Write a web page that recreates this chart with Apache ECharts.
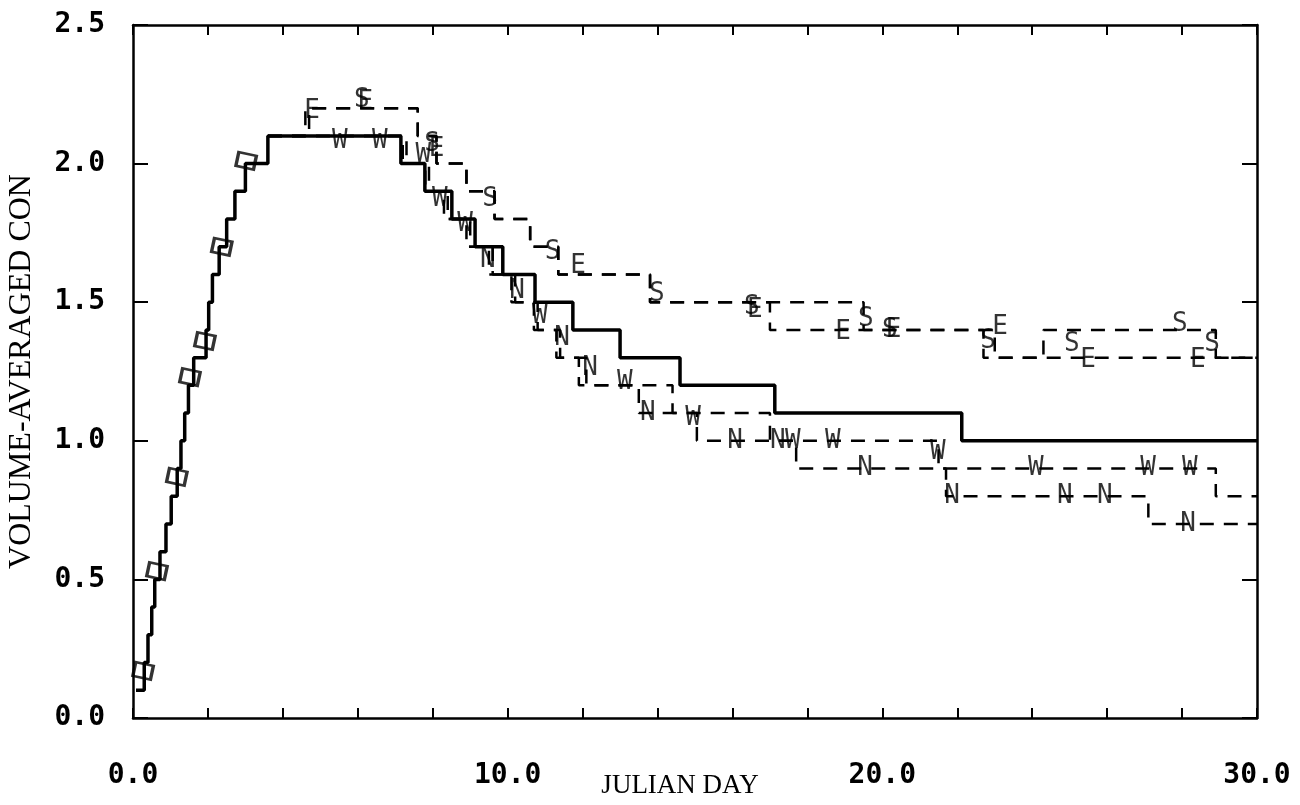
<!DOCTYPE html>
<html>
<head>
<meta charset="utf-8">
<script src="https://cdn.jsdelivr.net/npm/echarts@6/dist/echarts.min.js"></script>
<style>
  html, body { margin: 0; padding: 0; background: #fff; }
  #chart { width: 1300px; height: 805px; }
</style>
</head>
<body>
<div id="chart"></div>
<script>
// solid step line (volume average)
const solidDays = [0.08, 0.3, 0.4, 0.5, 0.58, 0.72, 0.88, 1.02, 1.18, 1.28, 1.38, 1.48, 1.62, 1.95, 2.02, 2.12, 2.3, 2.5, 2.72, 3.0, 3.6,
  7.15, 7.79, 8.51, 9.13, 9.87, 10.73, 11.74, 13.0, 14.6, 17.13, 22.12, 30];
const solidVals = [0.1, 0.2, 0.3, 0.4, 0.5, 0.6, 0.7, 0.8, 0.9, 1.0, 1.1, 1.2, 1.3, 1.4, 1.5, 1.6, 1.7, 1.8, 1.9, 2.0, 2.1,
  2.0, 1.9, 1.8, 1.7, 1.6, 1.5, 1.4, 1.3, 1.2, 1.1, 1.0, 1.0];

// dashed step lines
const sDays = [3.6, 4.7, 7.6, 8.1, 8.9, 9.65, 10.6, 11.35, 13.8, 19.5, 22.7, 24.3, 28.9, 30];
const sVals = [2.1, 2.2, 2.1, 2.0, 1.9, 1.8, 1.7, 1.6, 1.5, 1.4, 1.3, 1.4, 1.3, 1.3];
const eDays = [3.6, 4.6, 7.6, 8.1, 8.9, 9.65, 10.6, 11.35, 13.8, 17.0, 23.0, 30];
const eVals = [2.1, 2.2, 2.1, 2.0, 1.9, 1.8, 1.7, 1.6, 1.5, 1.4, 1.3, 1.3];
const wDays = [3.6, 7.3, 7.9, 8.4, 9.0, 9.6, 10.2, 10.8, 11.4, 12.1, 14.4, 17.0, 21.5, 28.9, 30];
const wVals = [2.1, 2.0, 1.9, 1.8, 1.7, 1.6, 1.5, 1.4, 1.3, 1.2, 1.1, 1.0, 0.9, 0.8, 0.8];
const nDays = [3.6, 7.2, 7.8, 8.3, 8.9, 9.5, 10.1, 10.7, 11.3, 11.9, 13.5, 15.05, 17.7, 21.7, 27.1, 30];
const nVals = [2.1, 2.0, 1.9, 1.8, 1.7, 1.6, 1.5, 1.4, 1.3, 1.2, 1.1, 1.0, 0.9, 0.8, 0.7, 0.7];

// plotted symbols
const boxDays = [0.27, 0.64, 1.17, 1.52, 1.92, 2.37, 3.02];
const boxVals = [0.17, 0.53, 0.87, 1.23, 1.36, 1.70, 2.01];
const sMarkDays = [6.11, 7.98, 9.53, 11.2, 13.98, 16.52, 19.56, 20.2, 22.82, 25.06, 27.94, 28.8];
const sMarkVals = [2.23, 2.07, 1.87, 1.68, 1.53, 1.48, 1.44, 1.40, 1.36, 1.35, 1.42, 1.35];
const eMarkDays = [4.78, 6.2, 8.1, 11.88, 16.6, 18.95, 20.3, 23.14, 25.49, 28.42];
const eMarkVals = [2.19, 2.22, 2.05, 1.63, 1.47, 1.39, 1.40, 1.41, 1.29, 1.29];
const wMarkDays = [5.52, 6.59, 7.75, 8.19, 8.86, 10.86, 13.13, 14.95, 17.61, 18.68, 21.48, 24.1, 27.09, 28.21];
const wMarkVals = [2.08, 2.08, 2.03, 1.87, 1.78, 1.45, 1.21, 1.08, 1.0, 1.0, 0.96, 0.9, 0.9, 0.9];
const nMarkDays = [9.47, 10.25, 11.45, 12.2, 13.74, 16.07, 17.21, 19.54, 21.86, 24.87, 25.94, 28.16];
const nMarkVals = [1.65, 1.54, 1.37, 1.26, 1.1, 1.0, 1.0, 0.9, 0.8, 0.8, 0.8, 0.7];

function zip (xs, ys) {
  return xs.map((x, i) => [x, ys[i]]);
}

const monoFont = 'DejaVu Sans Mono';
const serifFont = 'Liberation Serif';

function stepLine (name, xs, ys, width, dashed) {
  return {
    name: name,
    type: 'line',
    step: 'end',
    symbol: 'none',
    data: zip(xs, ys),
    lineStyle: { color: '#000', width: width, type: dashed ? [14, 10] : 'solid' },
    z: dashed ? 2 : 3
  };
}

function letters (letter, xs, ys) {
  return {
    name: letter,
    type: 'scatter',
    symbol: 'circle',
    symbolSize: 1,
    itemStyle: { color: 'rgba(0,0,0,0)' },
    data: zip(xs, ys),
    label: {
      show: true,
      position: 'inside',
      formatter: letter,
      fontFamily: monoFont,
      fontSize: 26,
      color: '#000'
    },
    z: 4
  };
}

// frame axes: no labels, ticks pointing into the plot
function frameAxis (extra) {
  return Object.assign({
    type: 'value',
    axisLine: { show: true, onZero: false, lineStyle: { color: '#000', width: 2.5 } },
    axisTick: { show: true, inside: true, lineStyle: { color: '#000', width: 2 } },
    axisLabel: { show: false },
    splitLine: { show: false }
  }, extra);
}

const chart = echarts.init(document.getElementById('chart'));

const option = {
  backgroundColor: '#fff',
  animation: false,
  grid: { left: 133, right: 43, top: 25, bottom: 87, containLabel: false, outerBoundsMode: 'none' },
  xAxis: [
    {
      type: 'value',
      min: 0,
      max: 30,
      interval: 2,
      name: 'JULIAN DAY',
      nameLocation: 'middle',
      nameGap: 54,
      nameMoveOverlap: false,
      nameTextStyle: { fontFamily: serifFont, fontSize: 27, color: '#000', padding: [0, 30, 0, 0] },
      axisLine: { onZero: false, lineStyle: { color: '#000', width: 2.5 } },
      axisTick: { inside: true, length: 10, lineStyle: { color: '#000', width: 2 } },
      axisLabel: {
        margin: 44,
        fontFamily: monoFont,
        fontSize: 28,
        fontWeight: 'bold',
        color: '#000',
        formatter: v => (v % 10 === 0 ? v.toFixed(1) : '')
      },
      splitLine: { show: false }
    },
    frameAxis({ position: 'top', min: 0, max: 30, interval: 2, axisTick: { show: true, inside: true, length: 10, lineStyle: { color: '#000', width: 2 } } })
  ],
  yAxis: [
    {
      type: 'value',
      min: 0,
      max: 2.5,
      interval: 0.5,
      name: 'VOLUME-AVERAGED CON',
      nameLocation: 'middle',
      nameGap: 95,
      nameMoveOverlap: false,
      nameTextStyle: { fontFamily: serifFont, fontSize: 32, color: '#000' },
      axisLine: { show: true, onZero: false, lineStyle: { color: '#000', width: 2.5 } },
      axisTick: { show: true, inside: true, length: 15, lineStyle: { color: '#000', width: 2 } },
      axisLabel: {
        margin: 28,
        fontFamily: monoFont,
        fontSize: 28,
        fontWeight: 'bold',
        color: '#000',
        formatter: v => v.toFixed(1)
      },
      splitLine: { show: false }
    },
    frameAxis({ position: 'right', min: 0, max: 2.5, interval: 0.5, axisTick: { show: true, inside: true, length: 15, lineStyle: { color: '#000', width: 2 } } })
  ],
  series: [
    stepLine('S', sDays, sVals, 2.5, true),
    stepLine('E', eDays, eVals, 2.5, true),
    stepLine('W', wDays, wVals, 2.5, true),
    stepLine('N', nDays, nVals, 2.5, true),
    stepLine('Average', solidDays, solidVals, 3.5, false),
    {
      name: 'Box',
      type: 'scatter',
      symbol: 'rect',
      symbolSize: [18, 14],
      symbolRotate: -12,
      itemStyle: { color: 'rgba(0,0,0,0)', borderColor: '#000', borderWidth: 3 },
      data: zip(boxDays, boxVals),
      z: 4
    },
    letters('S', sMarkDays, sMarkVals),
    letters('E', eMarkDays, eMarkVals),
    letters('W', wMarkDays, wMarkVals),
    letters('N', nMarkDays, nMarkVals)
  ]
};

chart.setOption(option);
</script>
</body>
</html>
